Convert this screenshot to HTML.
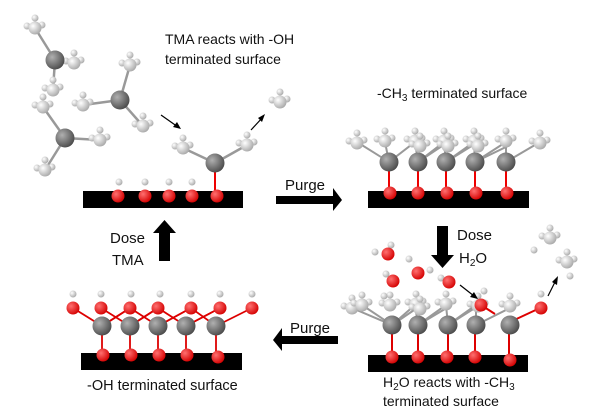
<!DOCTYPE html>
<html><head><meta charset="utf-8"><style>
html,body{margin:0;padding:0;background:#fff;width:600px;height:413px;overflow:hidden}
svg{display:block}
text{font-family:"Liberation Sans",sans-serif;fill:#111}
</style></head><body>
<svg width="600" height="413" viewBox="0 0 600 413" xmlns="http://www.w3.org/2000/svg">
<defs>
<radialGradient id="gA" cx="35%" cy="35%" r="70%"><stop offset="0" stop-color="#b0b0b0"/><stop offset="1" stop-color="#4a4a4a"/></radialGradient>
<radialGradient id="gO" cx="35%" cy="35%" r="70%"><stop offset="0" stop-color="#ff7070"/><stop offset="1" stop-color="#d40000"/></radialGradient>
<radialGradient id="gC" cx="35%" cy="35%" r="70%"><stop offset="0" stop-color="#ffffff"/><stop offset="1" stop-color="#a8a8a8"/></radialGradient>
<circle id="al" r="9.5" fill="url(#gA)"/>
<circle id="o" r="6.5" fill="url(#gO)"/>
<circle id="c" r="6.5" fill="url(#gC)"/>
<circle id="h" r="3.5" fill="url(#gC)"/>
<g id="me"><use href="#h" x="-8" y="-2"/><use href="#h" x="7" y="-3"/><use href="#h" x="0" y="-10"/><use href="#c"/></g>
</defs>

<rect x="83" y="191" width="160" height="17" fill="#000"/>
<rect x="368" y="191" width="161" height="17" fill="#000"/>
<rect x="81" y="353" width="161" height="17" fill="#000"/>
<rect x="368" y="355" width="160" height="17" fill="#000"/>

<polygon points="276,196 333,196 333,188 342,200 333,211 333,204 276,204" fill="#000"/>
<polygon points="338,336 282,336 282,328 273,340 282,351 282,344 338,344" fill="#000"/>
<polygon points="159,261 170,261 170,233 176,233 164.5,220 153,233 159,233" fill="#000"/>
<polygon points="437,226 448,226 448,255 454,255 442.5,268 431,255 437,255" fill="#000"/>

<text x="165" y="44" font-size="14">TMA reacts with -OH</text>
<text x="165" y="64" font-size="14">terminated surface</text>
<text x="377" y="98" font-size="14">-CH<tspan font-size="10" dy="3">3</tspan><tspan dy="-3"> terminated surface</tspan></text>
<text x="285" y="190" font-size="15">Purge</text>
<text x="110" y="243" font-size="15">Dose</text>
<text x="112" y="265" font-size="15">TMA</text>
<text x="457" y="240" font-size="15">Dose</text>
<text x="459" y="263" font-size="15">H<tspan font-size="10" dy="3">2</tspan><tspan dy="-3">O</tspan></text>
<text x="290" y="333" font-size="15">Purge</text>
<text x="87" y="390" font-size="14.5">-OH terminated surface</text>
<text x="383" y="387" font-size="14">H<tspan font-size="10" dy="3">2</tspan><tspan dy="-3">O reacts with -CH</tspan><tspan font-size="10" dy="3">3</tspan></text>
<text x="383" y="406" font-size="14">terminated surface</text>

<g stroke="#999" stroke-width="2.5">
<line x1="55" y1="60" x2="35" y2="28"/><line x1="55" y1="60" x2="74" y2="63"/><line x1="55" y1="60" x2="53" y2="90"/>
<line x1="120" y1="100" x2="130" y2="65"/><line x1="120" y1="100" x2="83" y2="105"/><line x1="120" y1="100" x2="143" y2="126"/>
<line x1="65" y1="138" x2="43" y2="107"/><line x1="65" y1="138" x2="100" y2="140"/><line x1="65" y1="138" x2="45" y2="170"/>
<line x1="215" y1="163" x2="183" y2="148"/><line x1="215" y1="163" x2="247" y2="145"/>
</g>
<g stroke="#e00" stroke-width="2"><line x1="215" y1="170" x2="215" y2="195"/></g>
<use href="#me" x="35" y="28"/><use href="#me" x="74" y="63"/><use href="#me" x="53" y="90"/>
<use href="#me" x="130" y="65"/><use href="#me" x="83" y="105"/><use href="#me" x="143" y="126"/>
<use href="#me" x="43" y="107"/><use href="#me" x="100" y="140"/><use href="#me" x="45" y="170"/>
<use href="#al" x="55" y="60"/><use href="#al" x="120" y="100"/><use href="#al" x="65" y="138"/>
<use href="#me" x="183" y="148"/><use href="#me" x="247" y="145"/><use href="#me" x="280" y="102"/>
<use href="#al" x="215" y="163"/>
<g stroke="#000" stroke-width="1.2"><line x1="161" y1="115" x2="178" y2="127"/><line x1="251" y1="130" x2="263" y2="117"/></g>
<polygon points="181,129 173,127 177,122" fill="#000"/><polygon points="265,114 262,122 258,118" fill="#000"/>
<g><use href="#o" x="118" y="196"/><use href="#o" x="145" y="196"/><use href="#o" x="169" y="196"/><use href="#o" x="192" y="196"/><use href="#o" x="217" y="196"/>
<use href="#h" x="119" y="182"/><use href="#h" x="145" y="182"/><use href="#h" x="169" y="182"/><use href="#h" x="192" y="182"/></g>

<g stroke="#999" stroke-width="2">
<polyline points="357,142 389,162 415,142 418,162 444,142 446,162 474,142 475,162 506,142 506,162 540,142" fill="none"/>
<polyline points="385,142 389,162" /><polyline points="418,162 448,142"/><polyline points="446,162 478,142"/><polyline points="475,162 510,145"/>
</g>
<g stroke="#e00" stroke-width="2"><line x1="389" y1="170" x2="389" y2="190"/><line x1="418" y1="170" x2="418" y2="190"/><line x1="446" y1="170" x2="446" y2="190"/><line x1="475" y1="170" x2="475" y2="190"/><line x1="506" y1="170" x2="506" y2="190"/></g>
<use href="#me" x="357" y="143"/><use href="#me" x="385" y="141"/><use href="#me" x="415" y="141"/><use href="#me" x="444" y="141"/><use href="#me" x="474" y="141"/><use href="#me" x="506" y="141"/><use href="#me" x="540" y="143"/>
<use href="#me" x="420" y="146"/><use href="#me" x="448" y="146"/><use href="#me" x="478" y="146"/>
<use href="#al" x="389" y="162"/><use href="#al" x="418" y="162"/><use href="#al" x="446" y="162"/><use href="#al" x="475" y="162"/><use href="#al" x="506" y="162"/>
<use href="#o" x="390" y="193"/><use href="#o" x="418" y="193"/><use href="#o" x="447" y="193"/><use href="#o" x="476" y="193"/><use href="#o" x="507" y="193"/>

<g stroke="#d00" stroke-width="1.8" fill="none">
<polyline points="73,308 102,326 130,308 158,326 191,308 216,326 252,308"/>
<polyline points="101,308 130,326 158,308 186,326 220,308"/>
<polyline points="102,326 130,308"/><polyline points="130,326 158,308"/><polyline points="158,326 191,308"/><polyline points="186,326 220,308"/>
<line x1="102" y1="334" x2="102" y2="353"/><line x1="130" y1="334" x2="130" y2="353"/><line x1="158" y1="334" x2="158" y2="353"/><line x1="186" y1="334" x2="186" y2="353"/><line x1="216" y1="334" x2="216" y2="353"/>
</g>
<use href="#o" x="73" y="308"/><use href="#o" x="101" y="308"/><use href="#o" x="130" y="308"/><use href="#o" x="158" y="308"/><use href="#o" x="191" y="308"/><use href="#o" x="220" y="308"/><use href="#o" x="252" y="308"/>
<use href="#h" x="73" y="294"/><use href="#h" x="101" y="294"/><use href="#h" x="131" y="294"/><use href="#h" x="160" y="294"/><use href="#h" x="191" y="294"/><use href="#h" x="220" y="294"/><use href="#h" x="252" y="294"/>
<use href="#al" x="102" y="326"/><use href="#al" x="130" y="326"/><use href="#al" x="158" y="326"/><use href="#al" x="186" y="326"/><use href="#al" x="216" y="326"/>
<use href="#o" x="103" y="355"/><use href="#o" x="131" y="355"/><use href="#o" x="159" y="355"/><use href="#o" x="187" y="355"/><use href="#o" x="218" y="357"/>

<g stroke="#999" stroke-width="2" fill="none">
<polyline points="352,308 392,325 415,305 418,325 446,305 448,325 476,305 476,325 510,308"/>
<polyline points="362,305 392,325"/><polyline points="392,325 420,306"/><polyline points="418,325 450,306"/><polyline points="448,325 478,306"/>
</g>
<g stroke="#d00" stroke-width="2"><line x1="392" y1="333" x2="392" y2="352"/><line x1="418" y1="333" x2="418" y2="352"/><line x1="448" y1="333" x2="448" y2="352"/><line x1="475" y1="333" x2="475" y2="352"/><line x1="509" y1="333" x2="509" y2="354"/>
<line x1="510" y1="322" x2="540" y2="308"/><line x1="481" y1="305" x2="495" y2="314"/></g>
<use href="#me" x="352" y="308"/><use href="#me" x="362" y="305"/><use href="#me" x="390" y="305"/><use href="#me" x="416" y="304"/><use href="#me" x="446" y="304"/><use href="#me" x="478" y="306"/><use href="#me" x="510" y="306"/><use href="#me" x="420" y="309"/>
<use href="#al" x="392" y="325"/><use href="#al" x="418" y="325"/><use href="#al" x="448" y="325"/><use href="#al" x="476" y="325"/><use href="#al" x="510" y="325"/>
<use href="#o" x="392" y="357"/><use href="#o" x="418" y="357"/><use href="#o" x="447" y="357"/><use href="#o" x="475" y="357"/><use href="#o" x="510" y="360"/>
<use href="#o" x="481" y="305"/><use href="#h" x="484" y="291"/>
<use href="#o" x="541" y="308"/><use href="#h" x="541" y="294"/>
<use href="#h" x="375" y="252"/><use href="#h" x="391" y="245"/><use href="#o" x="388" y="254"/>
<use href="#h" x="409" y="259"/><use href="#h" x="430" y="270"/><use href="#o" x="418" y="273"/>
<use href="#h" x="386" y="274"/><use href="#h" x="384" y="296"/><use href="#o" x="393" y="281"/>
<use href="#h" x="441" y="278"/><use href="#o" x="449" y="282"/>
<g stroke="#000" stroke-width="1.2"><line x1="460" y1="285" x2="474" y2="296"/><line x1="548" y1="296" x2="556" y2="280"/></g>
<polygon points="478,299 470,297 474,292" fill="#000"/><polygon points="558,276 557,285 552,282" fill="#000"/>
<use href="#me" x="550" y="238"/><use href="#me" x="567" y="262"/><use href="#h" x="570" y="276"/><use href="#h" x="534" y="250"/>
</svg>
</body></html>
